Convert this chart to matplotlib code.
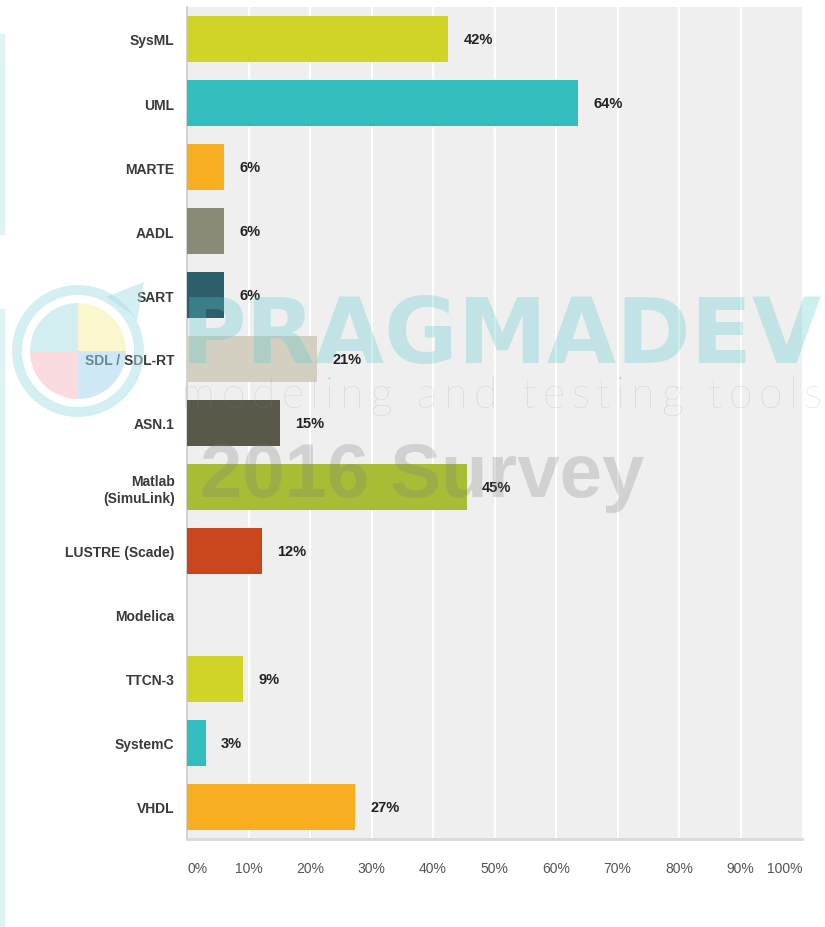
import numpy as np
import matplotlib
matplotlib.use('Agg')
import matplotlib.pyplot as plt
from matplotlib.patches import Wedge, Polygon, Rectangle

# ============================================================
# DATA
# ============================================================
categories = ['SysML', 'UML', 'MARTE', 'AADL', 'SART', 'SDL / SDL-RT', 'ASN.1',
              'Matlab\n(SimuLink)', 'LUSTRE (Scade)', 'Modelica', 'TTCN-3',
              'SystemC', 'VHDL']
values = [42.42, 63.64, 6.06, 6.06, 6.06, 21.21, 15.15, 45.45, 12.12, 0.0,
          9.09, 3.03, 27.27]
value_labels = ['42%', '64%', '6%', '6%', '6%', '21%', '15%', '45%', '12%', '',
                '9%', '3%', '27%']
bar_colors = ['#cfd427', '#33bdbf', '#f7ae21', '#8a8a78', '#2d5e6c', '#d3d0c2',
              '#5a5848', '#a8bd35', '#c9461c', '#cfd427', '#cfd427', '#33bdbf',
              '#f7ae21']
xticks = [0, 10, 20, 30, 40, 50, 60, 70, 80, 90, 100]
xtick_labels = ['0%', '10%', '20%', '30%', '40%', '50%', '60%', '70%', '80%',
                '90%', '100%']

W, H = 825, 928
FONT = ['Liberation Sans', 'DejaVu Sans']

fig = plt.figure(figsize=(W / 100, H / 100), dpi=100)
fig.patch.set_facecolor('white')

# left decorative cyan strips
fig.patches.append(Rectangle((0, 1 - 235 / H), 4 / W, 200 / H,
                             transform=fig.transFigure, color='#dff2f4', zorder=0))
fig.patches.append(Rectangle((0, 0), 4 / W, 1 - 310 / H,
                             transform=fig.transFigure, color='#dff2f4', zorder=0))

# ============================================================
# MAIN CHART
# ============================================================
ax = fig.add_axes([187 / W, 1 - 840 / H, 615 / W, 832 / H])
ax.set_facecolor('#efefef')
y = np.arange(len(categories))
ax.barh(y, values, height=0.72, color=bar_colors, zorder=3)
for yi, v, lab in zip(y, values, value_labels):
    if lab:
        ax.text(v + 2.5, yi, lab, va='center', ha='left', fontsize=10.5,
                fontweight='bold', color='#222222', family=FONT, zorder=4)

ax.set_xlim(0, 100)
ax.set_ylim(len(categories) - 0.5, -0.5)
ax.set_yticks(y)
ax.set_yticklabels(categories, fontsize=10, fontweight='bold', color='#3a3a3a',
                   family=FONT, linespacing=1.25)
ax.set_xticks(xticks)
ax.set_xticklabels(xtick_labels, fontsize=10, color='#555555', family=FONT)
tl = ax.get_xticklabels()
tl[0].set_ha('left')
tl[-1].set_ha('right')
ax.tick_params(axis='both', length=0)
ax.tick_params(axis='x', pad=16)
ax.tick_params(axis='y', pad=9)
for g in xticks[1:-1]:
    ax.axvline(g, color='white', lw=1.5, zorder=1)
for s in ['top', 'right']:
    ax.spines[s].set_visible(False)
ax.spines['left'].set_color('#cccccc')
ax.spines['left'].set_linewidth(1.2)
ax.spines['bottom'].set_color('#d9d9d9')
ax.spines['bottom'].set_linewidth(2)

# ============================================================
# WATERMARK
# ============================================================
ov = fig.add_axes([0, 0, 1, 1], zorder=10)
ov.set_xlim(0, W)
ov.set_ylim(H, 0)
ov.axis('off')
ov.patch.set_alpha(0)

cx, cy = 78, 352
ring_c = '#abe1e5'
ov.add_patch(Wedge((cx, cy), 66, 0, 360, width=10, color=ring_c, alpha=0.5, lw=0))
ov.add_patch(Polygon([(106, 298), (144, 283), (137, 322), (130, 314)],
                     closed=True, color=ring_c, alpha=0.5, lw=0))
# pie quadrants (y axis inverted: 180-270 is top-left)
for t1, t2, c in [(180, 270, '#a9dfe3'), (270, 360, '#f7f1a1'),
                  (90, 180, '#f7bbc3'), (0, 90, '#9fd5ed')]:
    ov.add_patch(Wedge((cx, cy), 48, t1, t2, color=c, alpha=0.5, lw=0))

renderer = fig.canvas.get_renderer()


def fit_text(s, x0, base, width, **kw):
    t = ov.text(x0, base, s, ha='left', va='baseline', fontsize=50, **kw)
    w = t.get_window_extent(renderer).width
    t.set_fontsize(50 * width / w)
    return t


fit_text('PRAGMADEV', 181, 363, 642, family='DejaVu Sans',
         fontweight='bold', color='#59cace', alpha=0.3)
fit_text('2016 Survey', 200, 497, 445, family=FONT, fontweight='bold',
         color='#7b7b7b', alpha=0.25)

# spaced tagline, placed letter by letter
TAGFONT = ['Lato', 'DejaVu Sans']
tag = 'modeling and testing tools'
fs = 31
widths = []
for ch in tag:
    if ch == ' ':
        a = ov.text(0, 0, 'a a', fontsize=fs, family=TAGFONT, fontweight='light')
        b = ov.text(0, 0, 'aa', fontsize=fs, family=TAGFONT, fontweight='light')
        widths.append(a.get_window_extent(renderer).width -
                      b.get_window_extent(renderer).width)
        a.remove(); b.remove()
    else:
        t = ov.text(0, 0, ch, fontsize=fs, family=TAGFONT, fontweight='light')
        widths.append(t.get_window_extent(renderer).width)
        t.remove()
track = (822 - 181 - sum(widths)) / (len(tag) - 1)
xpos = 181
for ch, w in zip(tag, widths):
    if ch != ' ':
        ov.text(xpos, 408, ch, fontsize=fs, family=TAGFONT,
                fontweight='light', color='#8c8c8c', alpha=0.35,
                ha='left', va='baseline')
    xpos += w + track

plt.savefig('out.png', dpi=100)
plt.close()
